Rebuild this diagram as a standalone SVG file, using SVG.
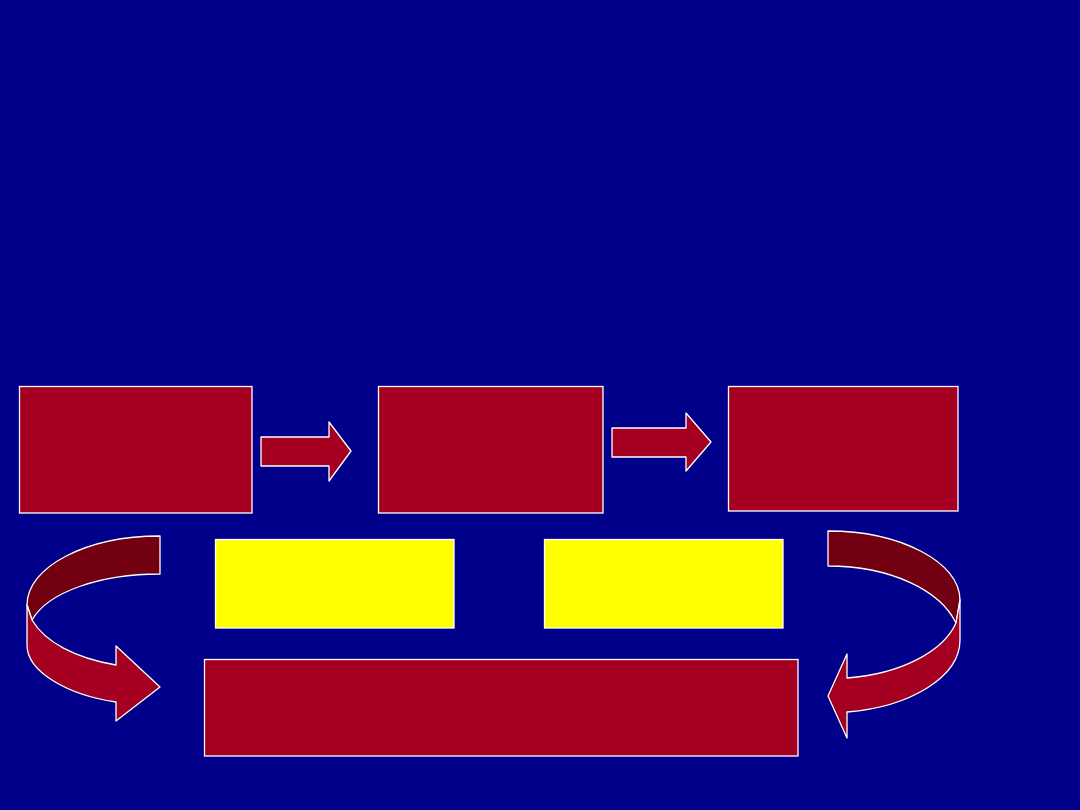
<svg xmlns="http://www.w3.org/2000/svg" width="1080" height="810" viewBox="0 0 1080 810">
<style>
.red{fill:#A50021;stroke:#FFFFFF;stroke-width:1.3}
.yel{fill:#FFFF00;stroke:#FFFFFF;stroke-width:1.3}
.dark{fill:#720012;stroke:#FFFFFF;stroke-width:1.3;stroke-linejoin:round}
.arr{fill:#A50021;stroke:#FFFFFF;stroke-width:1.3;stroke-linejoin:round}
</style>
<rect x="0" y="0" width="1080" height="810" fill="#00008B"/>
<g id="node-box1"><rect class="red" x="19.5" y="386.5" width="232.5" height="126.5"/></g>
<g id="node-box2"><rect class="red" x="378.5" y="386.5" width="224.5" height="126.5"/></g>
<g id="node-box3"><rect class="red" x="728.5" y="386.5" width="229.5" height="124.5"/></g>
<g id="node-yellow1"><rect class="yel" x="215.5" y="539.5" width="238.5" height="88.5"/></g>
<g id="node-yellow2"><rect class="yel" x="544.5" y="539.5" width="238.5" height="88.5"/></g>
<g id="node-bottom"><rect class="red" x="204.5" y="659.5" width="593.5" height="96.5"/></g>
<g id="connectors">
<path class="arr" d="M261,437 L329,437 L329,422 L351,451 L329,481 L329,466 L261,466 Z"/>
<path class="arr" d="M612,428 L686,428 L686,413 L711,442 L686,471 L686,457 L612,457 Z"/>
<path class="dark" d="M160,536 C86,536 27,567 27,605 L32,620 C48,592 100,574 160,574 Z"/>
<path class="arr" d="M27,605 L27,645 C27,672 68,695 116,702 L116,721 L160,687 L116,646 L116,665 C75,658 45,642 32,620 Z"/>
<path class="dark" d="M828,531 C900,531 960,562 960,600 L956,623 C940,590 890,566 828,566 Z"/>
<path class="arr" d="M960,600 L960,640 C960,677 910,707 847,712 L847,738 L828,696 L847,654 L847,678 C900,674 943,652 956,623 Z"/>
</g>
</svg>
